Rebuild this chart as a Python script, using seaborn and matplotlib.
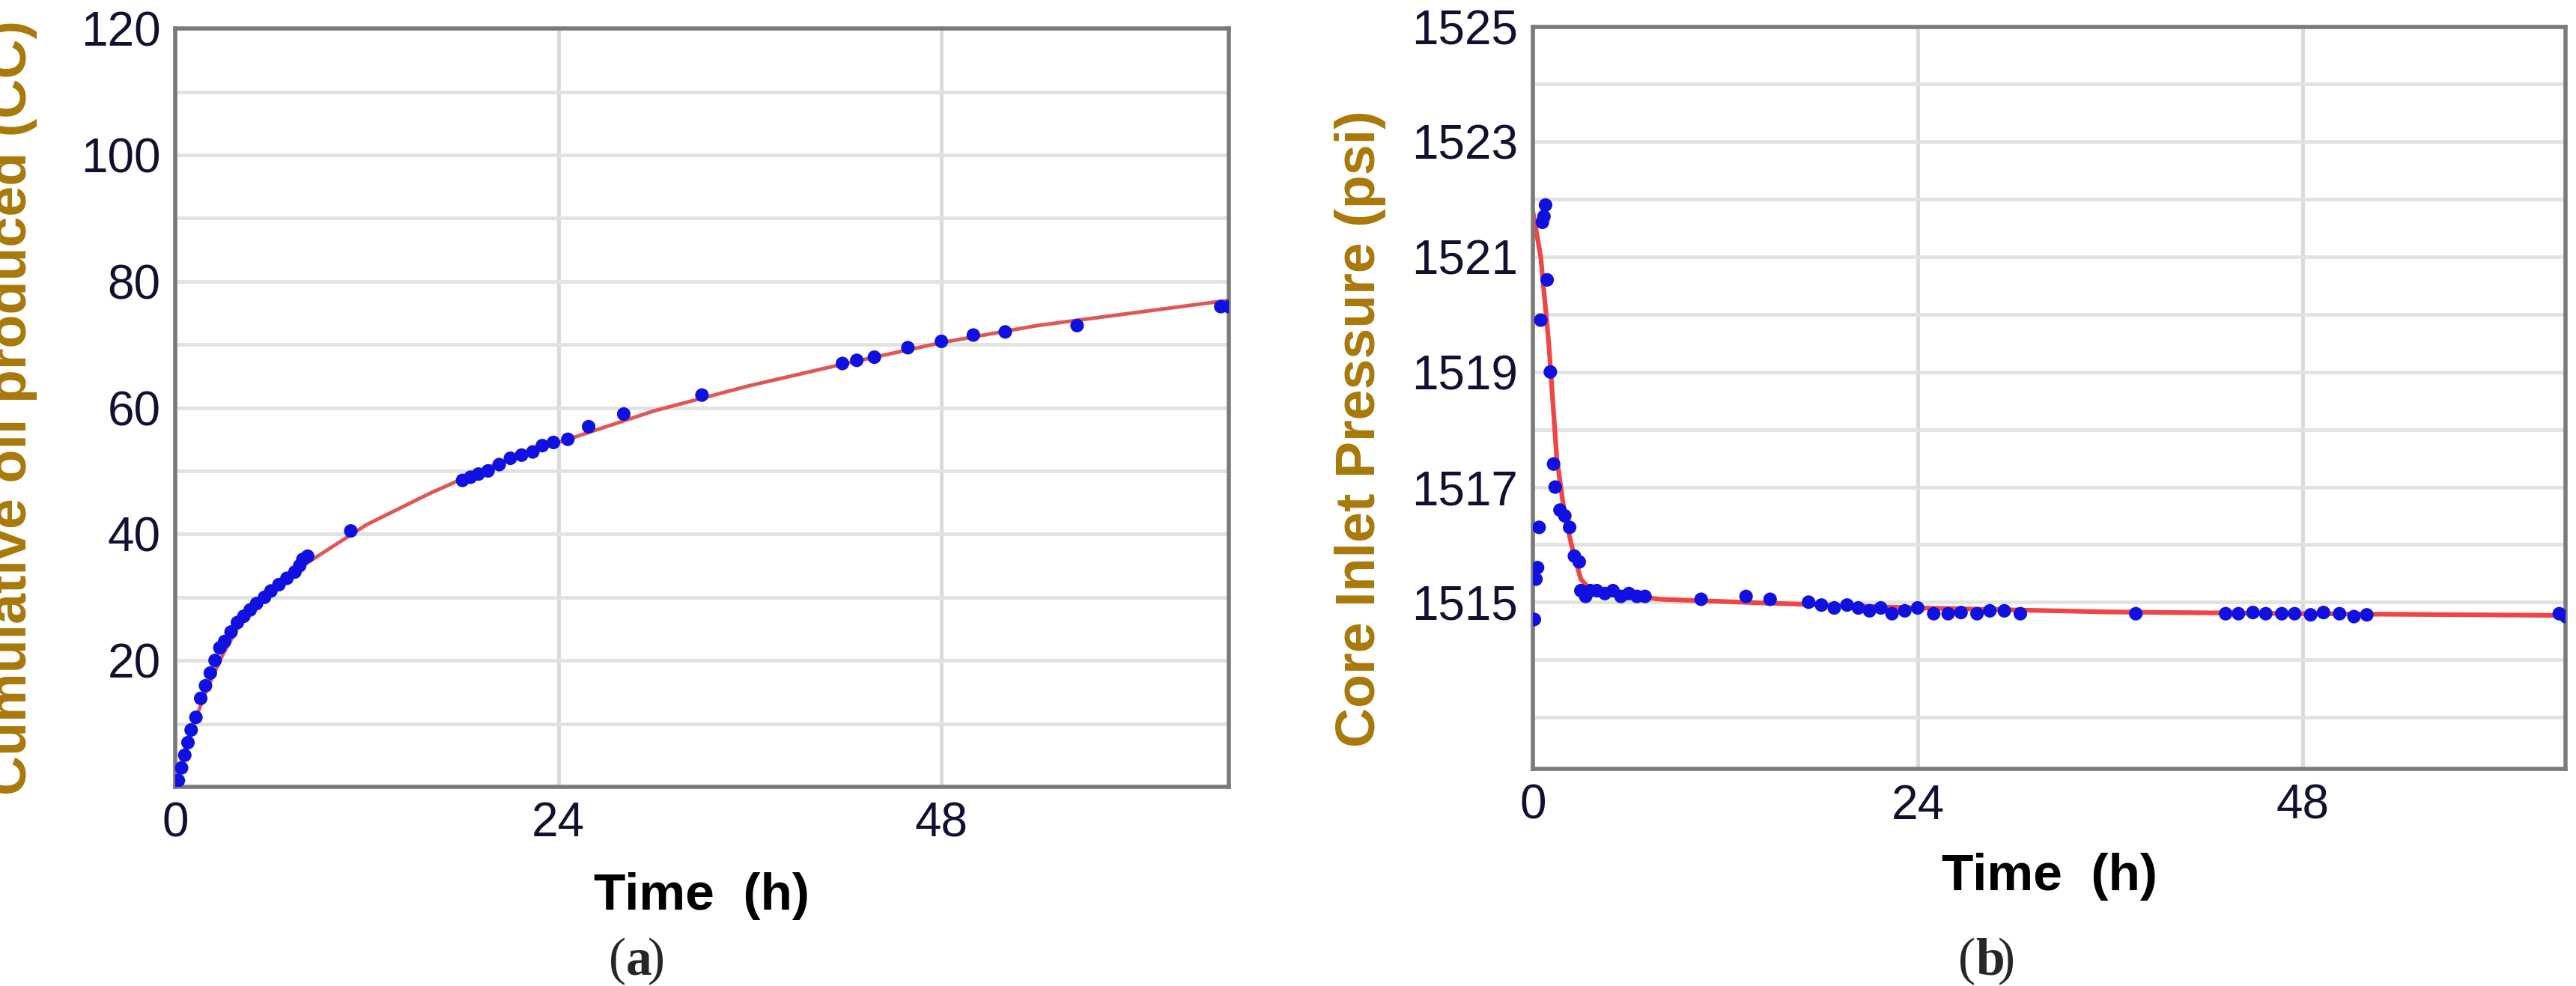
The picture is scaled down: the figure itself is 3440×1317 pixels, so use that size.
import numpy as np
import pandas as pd
import matplotlib
matplotlib.use("Agg")
import matplotlib.pyplot as plt
import seaborn as sns

# panel (a): measured cumulative oil (cc) and fitted curve
oil_t = [0.2, 0.4, 0.6, 0.8, 1.0, 1.3, 1.6, 1.9, 2.2, 2.5, 2.8, 3.1, 3.5, 3.9, 4.3, 4.7,
         5.1, 5.6, 6.0, 6.5, 7.0, 7.5, 7.8, 8.0, 8.3, 11, 18, 18.5, 19, 19.6, 20.3, 21,
         21.7, 22.4, 23, 23.7, 24.6, 25.9, 28.1, 33, 41.8, 42.7, 43.8, 45.9, 48, 50, 52,
         56.5, 65.5, 66]
oil_v = [1, 3, 5, 7, 9, 11, 14, 16, 18, 20, 22, 23, 24.5, 26, 27, 28,
         29, 30, 31, 32, 33, 34, 35, 36, 36.5, 40.5, 48.5, 49, 49.5, 50, 51, 52,
         52.5, 53, 54, 54.5, 55, 57, 59, 62, 67, 67.5, 68, 69.5, 70.5, 71.5, 72,
         73, 76, 76]
oil_fit_t = [0, 0.5, 1, 2, 3, 4, 6, 8, 12, 16, 20, 24, 30, 36, 42, 48, 54, 60, 66]
oil_fit_v = [0, 5, 9, 15.5, 21, 25.5, 31, 35, 41.5, 46.5, 51, 54.5, 59.5, 63.5, 67, 70.3, 73, 75, 77]

# panel (b): core inlet pressure (psi)
p_t = [0.1, 0.2, 0.3, 0.4, 0.5, 0.6, 0.7, 0.8, 0.9, 1.1, 1.3, 1.4, 1.7, 2.0, 2.3, 2.6,
       2.9, 3.0, 3.3, 3.6, 4, 4.5, 5, 5.5, 6, 6.5, 7, 10.5, 13.3, 14.8, 17.2, 18, 18.8,
       19.6, 20.3, 21, 21.7, 22.4, 23.2, 24, 25, 25.9, 26.7, 27.7, 28.5, 29.4, 30.4,
       37.6, 43.2, 44, 44.9, 45.7, 46.7, 47.5, 48.5, 49.3, 50.3, 51.2, 52, 64, 64.4]
p_v = [1514.7, 1515.4, 1515.6, 1516.3, 1519.9, 1521.6, 1521.7, 1521.9, 1520.6, 1519.0,
       1517.4, 1517.0, 1516.6, 1516.5, 1516.3, 1515.8, 1515.7, 1515.2, 1515.1, 1515.2,
       1515.2, 1515.15, 1515.2, 1515.1, 1515.15, 1515.1, 1515.1, 1515.05, 1515.1, 1515.05,
       1515.0, 1514.95, 1514.9, 1514.95, 1514.9, 1514.85, 1514.9, 1514.8, 1514.85, 1514.9,
       1514.8, 1514.8, 1514.82, 1514.8, 1514.85, 1514.85, 1514.8, 1514.8, 1514.8, 1514.8,
       1514.82, 1514.8, 1514.8, 1514.8, 1514.78, 1514.82, 1514.8, 1514.75, 1514.78,
       1514.8, 1514.75]
p_fit_t = [0, 0.5, 1, 1.5, 2, 2.5, 3, 3.5, 5, 8, 15, 24, 36, 48, 64.4]
p_fit_v = [1521.8, 1521.0, 1519.5, 1517.5, 1516.5, 1515.9, 1515.4, 1515.25, 1515.15,
           1515.05, 1514.98, 1514.9, 1514.83, 1514.8, 1514.77]

x_ticks = [0, 24, 48]
oil_yticks = [20, 40, 60, 80, 100, 120]
p_yticks = [1515, 1517, 1519, 1521, 1523, 1525]

sns.set_theme(style="white")
plt.rcParams["font.family"] = ["Liberation Sans Narrow", "Liberation Sans", "DejaVu Sans"]

fig = plt.figure(figsize=(34.4, 13.17), dpi=100)
ax1 = fig.add_axes([0.068, 0.202, 0.409, 0.769])
ax2 = fig.add_axes([0.595, 0.22, 0.401, 0.753])

LABEL_COLOR = "#a8780a"
TICK_COLOR = "#101030"


def style_axis(ax, xmax, ylim, yticks, minor_start, minor_step, ylabel):
    ax.set_xlim(0, xmax)
    ax.set_ylim(*ylim)
    ax.set_xticks(x_ticks)
    ax.set_yticks(yticks)
    ax.set_yticks(np.arange(minor_start, ylim[1] + 0.01, minor_step), minor=True)
    ax.grid(True, which="both", axis="y", color="#e2e2e2", lw=3.5)
    ax.grid(True, which="major", axis="x", color="#dadada", lw=3.5)
    ax.set_axisbelow(True)
    for sp in ax.spines.values():
        sp.set_color("#7a7a7a")
        sp.set_linewidth(4)
    ax.tick_params(axis="both", which="major", labelsize=46, colors=TICK_COLOR, length=0, pad=14)
    ax.tick_params(axis="both", which="minor", length=0)
    ax.set_xlabel("Time  (h)", fontsize=50, fontweight="bold", color="black",
                  family=["Liberation Sans", "DejaVu Sans"])
    ax.set_ylabel(ylabel, fontsize=53, fontweight="bold", color=LABEL_COLOR,
                  family=["Liberation Sans", "DejaVu Sans"])


sns.lineplot(x=oil_fit_t, y=oil_fit_v, ax=ax1, color="#e05555", lw=3.5)
sns.scatterplot(x=oil_t, y=oil_v, ax=ax1, color="#1010e0", s=170, edgecolor="none", zorder=3)
style_axis(ax1, 66, (0, 120), oil_yticks, 10, 10, "Cumulative oil produced (CC)")
ax1.yaxis.set_label_coords(-0.131, 0.5)
ax1.xaxis.set_label_coords(0.5, -0.113)

sns.lineplot(x=p_fit_t, y=p_fit_v, ax=ax2, color="#f04545", lw=4.5)
sns.scatterplot(x=p_t, y=p_v, ax=ax2, color="#1010e0", s=170, edgecolor="none", zorder=3)
style_axis(ax2, 64.4, (1512.1, 1525), p_yticks, 1513, 1, "Core Inlet Pressure (psi)")
ax2.yaxis.set_label_coords(-0.142, 0.458)
ax2.xaxis.set_label_coords(0.5, -0.113)

for xc, letter in [(0.243, "a"), (0.767, "b")]:
    fig.text(xc, 0.012, "(", fontsize=50, family="Liberation Serif", ha="right", va="baseline")
    fig.text(xc, 0.012, letter, fontsize=50, family="Liberation Serif", fontweight="bold",
             ha="left", va="baseline")
    fig.text(xc + 0.0085, 0.012, ")", fontsize=50, family="Liberation Serif", ha="left", va="baseline")

fig.savefig("out.png", dpi=100)
